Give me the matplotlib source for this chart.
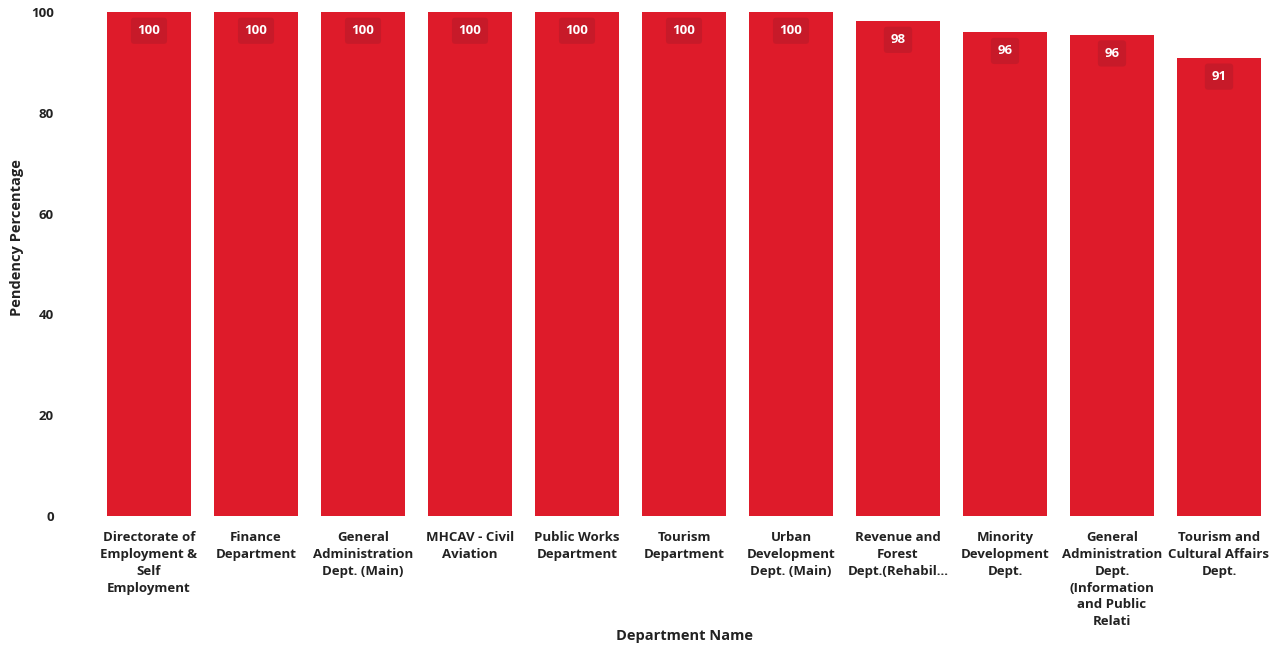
import matplotlib
matplotlib.use("Agg")
import matplotlib.pyplot as plt

departments = [
    "Directorate of\nEmployment &\nSelf\nEmployment",
    "Finance\nDepartment",
    "General\nAdministration\nDept. (Main)",
    "MHCAV - Civil\nAviation",
    "Public Works\nDepartment",
    "Tourism\nDepartment",
    "Urban\nDevelopment\nDept. (Main)",
    "Revenue and\nForest\nDept.(Rehabil...",
    "Minority\nDevelopment\nDept.",
    "General\nAdministration\nDept.\n(Information\nand Public\nRelati",
    "Tourism and\nCultural Affairs\nDept.",
]
pendency = [100, 100, 100, 100, 100, 100, 100, 98.2, 96.0, 95.5, 90.9]
y_ticks = [0, 20, 40, 60, 80, 100]

plt.rcParams['font.family'] = ['Open Sans', 'DejaVu Sans']

fig = plt.figure(figsize=(12.78, 6.48), dpi=100)
ax = fig.add_axes([95.5 / 1278, 1 - 516 / 648, (1272.5 - 95.5) / 1278, 504 / 648])

bar_color = "#DE1B2A"
box_color = "#C71A29"
x = list(range(len(departments)))
bars = ax.bar(x, pendency, width=0.785, color=bar_color)

for xi, v in zip(x, pendency):
    ax.annotate(f"{v:.0f}", xy=(xi, v), xytext=(0, -13.5), textcoords="offset points",
                ha="center", va="center", color="white", fontsize=9.5, fontweight="bold",
                bbox=dict(boxstyle="round,pad=0.5,rounding_size=0.25", fc=box_color, ec="none"))

ax.set_xlim(-0.5, len(departments) - 0.5)
ax.set_ylim(0, 100)
ax.set_yticks(y_ticks)
ax.set_yticklabels([str(t) for t in y_ticks], fontsize=9.5, fontweight="bold", color="#222222")
ax.set_xticks(x)
ax.set_xticklabels(departments, fontsize=9.5, fontweight="bold", color="#222222",
                   linespacing=1.38, va="top")
ax.tick_params(axis="both", length=0)
ax.tick_params(axis="x", pad=11)
ax.tick_params(axis="y", pad=30)
for s in ax.spines.values():
    s.set_visible(False)

ax.set_xlabel("Department Name", fontsize=10.5, fontweight="bold", color="#222222")
ax.xaxis.set_label_coords(0.5, -0.225)
ax.set_ylabel("Pendency Percentage", fontsize=10.5, fontweight="bold", color="#222222")
ax.yaxis.set_label_coords(-0.061, 0.553)

fig.savefig("out.png", dpi=100)
